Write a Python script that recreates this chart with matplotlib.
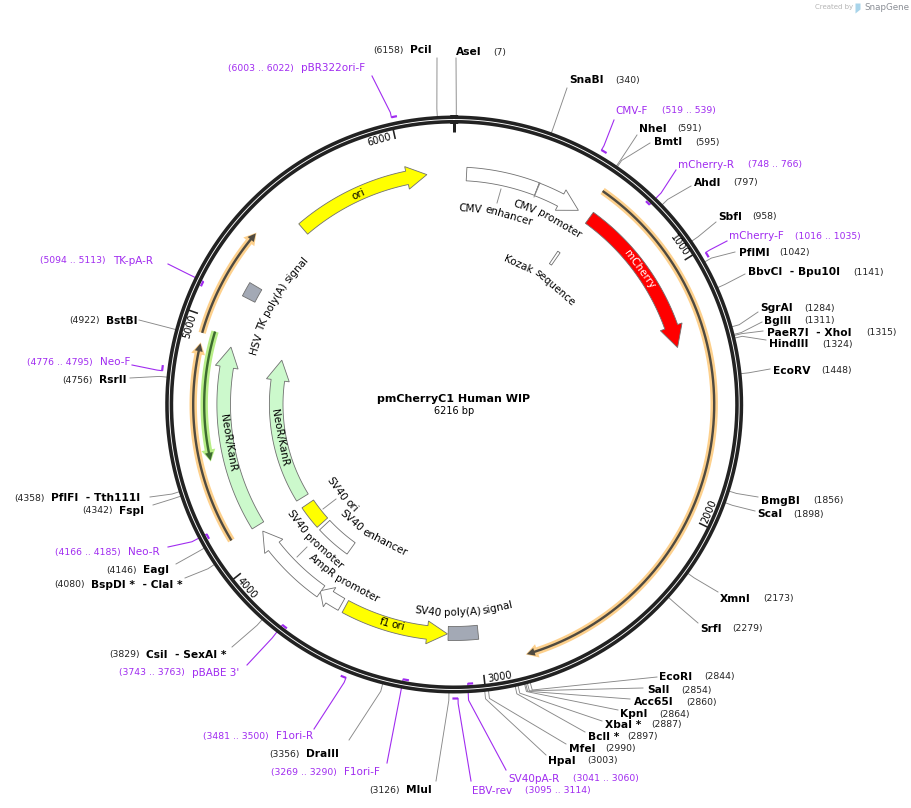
# pmCherryC1 plasmid map
import numpy as np
import matplotlib
matplotlib.use('Agg')
import matplotlib.pyplot as plt
from matplotlib.font_manager import FontProperties, findfont, get_font
from matplotlib.ft2font import LoadFlags

# Plasmid
PLASMID_NAME = "pmCherryC1 Human WIP"
PLASMID_LEN = 6216

# Ruler
tick_bp = [1000, 2000, 3000, 4000, 5000, 6000]

# Restriction sites
site_names = ["AseI", "PciI", "SnaBI", "NheI", "BmtI", "AhdI", "SbfI", "PflMI", "BbvCI  - Bpu10I",
              "SgrAI", "BglII", "PaeR7I  - XhoI", "HindIII", "EcoRV", "BmgBI", "ScaI", "XmnI", "SrfI",
              "EcoRI", "SalI", "Acc65I", "KpnI", "XbaI *", "BclI *", "MfeI", "HpaI", "MluI", "DraIII",
              "CsiI  - SexAI *", "BspDI *  - ClaI *", "EagI", "FspI", "PflFI  - Tth111I", "RsrII", "BstBI"]
site_bp = [7, 6158, 340, 591, 595, 797, 958, 1042, 1141,
           1284, 1311, 1315, 1324, 1448, 1856, 1898, 2173, 2279,
           2844, 2854, 2860, 2864, 2887, 2897, 2990, 3003, 3126, 3356,
           3829, 4080, 4146, 4342, 4358, 4756, 4922]

# Primers
primer_names = ["pBR322ori-F", "CMV-F", "mCherry-R", "mCherry-F", "TK-pA-R", "Neo-F", "Neo-R",
                "pBABE 3'", "F1ori-R", "F1ori-F", "EBV-rev", "SV40pA-R"]
primer_start = [6003, 519, 748, 1016, 5094, 4776, 4166, 3743, 3481, 3269, 3095, 3041]
primer_end = [6022, 539, 766, 1035, 5113, 4795, 4185, 3763, 3500, 3290, 3114, 3060]

# Arrow features (start is the tail, tip is the point)
arrow_names = ["mCherry", "NeoR/KanR", "NeoR/KanR", "ori", "f1 ori", "AmpR promoter", "SV40 promoter", "CMV promoter"]
arrow_start = [620, 4116, 4118, 5513, 3597, 3616, 3721, 363]
arrow_tip = [1307, 4911, 4911, 6099, 3137, 3725, 4084, 563]
arrow_head = [1214, 4823, 4797, 6013, 3225, 3676, 4003, 475]

# Box features
box_names = ["CMV enhancer", "SV40 poly(A) signal", "HSV TK poly(A) signal", "SV40 ori", "SV40 enhancer", "Kozak sequence"]
box_start = [53, 3005, 5131, 3939, 3723, 588]
box_end = [363, 3134, 5194, 4072, 3920, 603]

# Long thin translated features
thin_start = [601, 4936, 4120, 4955]
thin_tip = [2832, 5370, 4900, 4434]

# ---- Layout and style ----
W, H = 912, 808
CX, CY = 454.2, 404.5
RMAX = 320
PT = 0.72  # points per pixel at dpi 100

site_label_x = [456, 410, 569, 639, 654, 694, 718, 739, 748,
                760, 764, 767, 769, 773, 761, 757, 720, 700,
                659, 647, 634, 620, 605, 588, 569, 548, 406, 306,
                146, 91, 143, 119, 51, 99, 106]
site_label_y = [52, 50, 80, 129, 142, 183, 217, 253, 272,
                308, 321, 333, 344, 371, 501, 514, 599, 629,
                677, 690, 702, 714, 725, 737, 749, 761, 790, 754,
                655, 585, 570, 511, 498, 380, 321]
site_pos_x = [493, 373, 615, 677, 695, 733, 752, 779, 853,
              804, 804, 866, 822, 821, 813, 793, 763, 732,
              704, 681, 686, 659, 651, 627, 605, 587, 369, 269,
              109, 54, 106, 82, 14, 62, 69]
site_end_x = [456, 437, 567, 637, 650, 691, 716, 735, 745,
              758, 762, 763, 766, 770, 758, 755, 718, 698,
              657, 643, 630, 618, 602, 585, 566, 546, 436, 349,
              232, 185, 176, 153, 150, 130, 139]
site_end_y = [58, 58, 88, 135, 143, 186, 222, 252, 274,
              312, 322, 331, 340, 369, 497, 511, 592, 623,
              677, 688, 699, 710, 721, 732, 744, 755, 781, 740,
              647, 578, 564, 505, 497, 378, 320]

primer_name_x = [301, 615, 678, 729, 113, 100, 128, 192, 276, 344, 472, 508]
primer_name_y = [68, 111, 165, 236, 261, 362, 552, 673, 736, 772, 791, 779]
primer_range_x = [228, 662, 748, 795, 40, 27, 55, 119, 203, 271, 525, 573]
primer_end_x = [372, 614, 676, 727, 168, 132, 168, 247, 314, 387, 471, 506]
primer_end_y = [76, 120, 170, 241, 264, 365, 547, 665, 729, 763, 781, 770]
primer_inside = [False, False, True, False, True, False, True, True, False, True, False, True]

arrow_r = [230.5, 230.5, 178, 231.5, 229.5, 229.5, 229.5, 230.5]
arrow_colors = ["#ff0000", "#ccf9cc", "#ccf9cc", "#ffff00", "#ffff00", "#ffffff", "#ffffff", "#ffffff"]
arrow_text_x = [640, 228, 280, 358, 392, 343, 313, 548]
arrow_text_y = [269, 443, 438, 194, 624, 580, 541, 217]
arrow_text_colors = ["white", "black", "black", "black", "black", "black", "black", "black"]

box_rin = [224, 222, 224, 170, 170, 170]
box_rout = [237.5, 236, 238, 184, 184, 185]
box_colors = ["#ffffff", "#a3a9b5", "#a3a9b5", "#ffff00", "#ffffff", "#ffffff"]
box_text_x = [496, 464, 273, 342, 372, 542]
box_text_y = [212, 612, 302, 495, 535, 277]

thin_r = [260, 262, 261, 250]
thin_halo = ["#fdd08c", "#fdd08c", "#fdd08c", "#b8ee88"]
thin_dark = ["#4f4a40", "#4f4a40", "#4f4a40", "#3c6a30"]

label_leader_xy = [((501, 189), (497, 203)), ((540, 183), (534, 197)), ((336, 499), (323, 509)), ((307, 547), (297, 557))]

GREY = "#888888"
PURPLE = "#a02bf0"
DARK = "#222222"


def to_theta(bp):
    return np.asarray(bp, dtype=float) / PLASMID_LEN * 2 * np.pi


def pixel_to_polar(x, y):
    dx, dy = x - CX, y - CY
    return np.arctan2(dx, -dy), np.hypot(dx, dy)


def arc(a, b):
    return to_theta(np.linspace(a, b, 80))


def text_width(s, prop):
    # unhinted advance in pixels at dpi 100
    font = get_font(findfont(prop))
    font.set_size(prop.get_size_in_points(), 100)
    return sum(font.load_char(ord(c), flags=LoadFlags.NO_HINTING).linearHoriAdvance for c in s) / 65536


def curved_text(pax, s, x, y, size=7.5, color="black", zorder=8):
    # word by word along the circle through the label centre
    theta, r = pixel_to_polar(x, y)
    prop = FontProperties(family="DejaVu Sans", size=size)
    top = np.cos(theta) > 0
    rb = r - 3.6 if top else r + 3.6
    sign = 1 if top else -1
    space = 0.75 * text_width(" ", prop)
    words = s.split(" ")
    pos = -(sum(text_width(w, prop) for w in words) + space * (len(words) - 1)) / 2
    for word in words:
        w = text_width(word, prop)
        t = theta + sign * (pos + w / 2) / rb
        rot = -np.degrees(t) if top else 180 - np.degrees(t)
        pax.text(t, rb, word, fontproperties=prop, color=color, rotation=rot, rotation_mode="anchor",
                 ha="center", va="baseline", zorder=zorder)
        pos += w + space


def draw_arrow(pax, start, tip, head, r, hw, head_hw, face, edge="#707070", lw=0.6, zorder=4):
    body = arc(start, head)
    theta = np.concatenate([body, [to_theta(head), to_theta(tip), to_theta(head)], body[::-1]])
    radii = np.concatenate([np.full(80, r + hw), [r + head_hw, r, r - head_hw], np.full(80, r - hw)])
    pax.fill(theta, radii, facecolor=face, edgecolor=edge, linewidth=lw, clip_on=False, zorder=zorder)


def draw_box(pax, start, end, rin, rout, face, edge="#707070", lw=0.6, zorder=4):
    body = arc(start, end)
    theta = np.concatenate([body, body[::-1]])
    radii = np.concatenate([np.full(80, rout), np.full(80, rin)])
    pax.fill(theta, radii, facecolor=face, edgecolor=edge, linewidth=lw, clip_on=False, zorder=zorder)


fig = plt.figure(figsize=(W / 100, H / 100), dpi=100)

# pixel axes for the flat labels
ax = fig.add_axes([0, 0, 1, 1])
ax.set_xlim(0, W)
ax.set_ylim(H, 0)
ax.axis("off")

# polar axes for the map, clockwise from the top
pax = fig.add_axes([(CX - RMAX) / W, (H - CY - RMAX) / H, 2 * RMAX / W, 2 * RMAX / H], projection="polar")
pax.set_theta_zero_location("N")
pax.set_theta_direction(-1)
pax.set_axis_off()
pax.patch.set_alpha(0)

# Backbone
ring = np.linspace(0, 2 * np.pi, 720)
pax.plot(ring, np.full(720, 285), color=DARK, lw=8 * PT, zorder=3, clip_on=False)
pax.plot(ring, np.full(720, 285), color="white", lw=0.9 * PT, zorder=3.1, clip_on=False)

# Ticks
pax.plot([0, 0], [284, 272], color=DARK, lw=3 * PT, solid_capstyle="butt", zorder=3, clip_on=False)
for bp in tick_bp:
    t = to_theta(bp)
    pax.plot([t, t], [283, 272], color=DARK, lw=1.6 * PT, solid_capstyle="butt", zorder=3, clip_on=False)
    t_lab = to_theta(bp - 55)
    x = CX + 276 * np.sin(t_lab)
    y = CY - 276 * np.cos(t_lab)
    curved_text(pax, str(bp), x, y, size=7)

# Restriction sites
for name, bp, lx, ly, px, ex, ey in zip(site_names, site_bp, site_label_x, site_label_y, site_pos_x, site_end_x, site_end_y):
    t = to_theta(bp)
    te, re = pixel_to_polar(ex, ey)
    pax.plot([t, t, te], [287, 296, re], color=GREY, lw=0.9 * PT, zorder=2, clip_on=False)
    ax.text(lx, ly, name, fontsize=7.7, fontweight="bold", ha="left", va="center", color="black")
    ax.text(px, ly, "(%d)" % bp, fontsize=6.7, ha="left", va="center", color="#222222")

# Primers
for i, name in enumerate(primer_names):
    a, b = primer_start[i], primer_end[i]
    rb = 279.5 if primer_inside[i] else 294
    rel = 296 if primer_inside[i] else 299
    lead = to_theta(b if primer_inside[i] else a)
    te, re = pixel_to_polar(primer_end_x[i], primer_end_y[i])
    pax.plot([te, lead, lead], [re, rel, rb], color=PURPLE, lw=1.1 * PT, zorder=2, clip_on=False)
    pax.plot(arc(a, b), np.full(80, rb), color=PURPLE, lw=2.2 * PT, solid_capstyle="butt", zorder=4, clip_on=False)
    ax.text(primer_name_x[i], primer_name_y[i], name, fontsize=7.5, ha="left", va="center", color=PURPLE)
    ax.text(primer_range_x[i], primer_name_y[i], "(%d .. %d)" % (a, b), fontsize=6.7, ha="left", va="center", color=PURPLE)

# Thin features with a halo
for a, b, r, halo, dark in zip(thin_start, thin_tip, thin_r, thin_halo, thin_dark):
    step = 12.0 / r / (2 * np.pi) * PLASMID_LEN
    head = b - step if b > a else b + step
    draw_arrow(pax, a, b, head, r, 3.7, 7, halo, edge="none", lw=0, zorder=4)
    step = 9.0 / r / (2 * np.pi) * PLASMID_LEN
    head = b - step if b > a else b + step
    draw_arrow(pax, a, b - np.sign(b - a) * 4, head, r, 1.2, 4, dark, edge="none", lw=0, zorder=4.5)

# Boxes and arrows
for start, end, rin, rout, c in zip(box_start, box_end, box_rin, box_rout, box_colors):
    draw_box(pax, start, end, rin, rout, c)
for start, tip, head, r, c in zip(arrow_start, arrow_tip, arrow_head, arrow_r, arrow_colors):
    draw_arrow(pax, start, tip, head, r, 6.8, 11.5, c)

# Labels on the features
for name, x, y, c in zip(arrow_names, arrow_text_x, arrow_text_y, arrow_text_colors):
    curved_text(pax, name, x, y, color=c)
for name, x, y in zip(box_names, box_text_x, box_text_y):
    curved_text(pax, name, x, y)
for p0, p1 in label_leader_xy:
    t0, r0 = pixel_to_polar(*p0)
    t1, r1 = pixel_to_polar(*p1)
    pax.plot([t0, t1], [r0, r1], color=GREY, lw=0.9 * PT, zorder=5, clip_on=False)

pax.set_rlim(0, RMAX)

# Title
ax.text(454, 399, PLASMID_NAME, fontsize=8, fontweight="bold", ha="center", va="center")
ax.text(454, 411, "%d bp" % PLASMID_LEN, fontsize=7, ha="center", va="center")

# Watermark
ax.text(815, 7.5, "Created by", fontsize=5, color="#b4b4b4", ha="left", va="center")
ax.text(864, 7.5, "SnapGene", fontsize=6.3, color="#8b8f96", ha="left", va="center")
ax.fill_between([855, 860], [3, 3], [13, 9], color="#a8d4ea", lw=0)

fig.savefig("out.png", dpi=100)
